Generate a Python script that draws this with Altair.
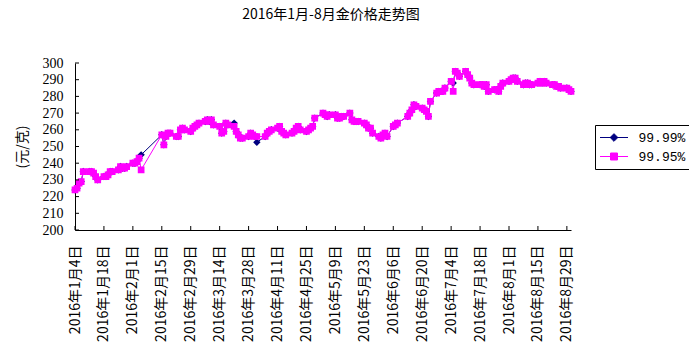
import altair as alt
import pandas as pd

# ---- data ----
months = [1, 2, 3, 4, 5, 6, 7, 8]
trade_days = [
    [4, 5, 6, 7, 8, 11, 12, 13, 14, 15, 18, 19, 20, 21, 22, 25, 26, 27, 28, 29],
    [1, 2, 3, 4, 5, 15, 16, 17, 18, 19, 22, 23, 24, 25, 26, 29],
    [1, 2, 3, 4, 7, 8, 9, 10, 11, 14, 15, 16, 17, 18, 21, 22, 23, 24, 25, 28, 29, 30, 31],
    [1, 5, 6, 7, 8, 11, 12, 13, 14, 15, 18, 19, 20, 21, 22, 25, 26, 27, 28, 29],
    [3, 4, 5, 6, 9, 10, 11, 12, 13, 16, 17, 18, 19, 20, 23, 24, 25, 26, 27, 30, 31],
    [1, 2, 3, 6, 7, 8, 13, 14, 15, 16, 17, 20, 21, 22, 23, 24, 27, 28, 29, 30],
    [1, 4, 5, 6, 7, 8, 11, 12, 13, 14, 15, 18, 19, 20, 21, 22, 25, 26, 27, 28, 29],
    [1, 2, 3, 4, 5, 8, 9, 10, 11, 12, 15, 16, 17, 18, 19, 22, 23, 24, 25, 26, 29, 30, 31],
]

au9999 = [
    [224, 225, 228, 229, 235, 235, 235, 234, 232, 230, 232, 232, 233, 235, 235, 236, 238, 237, 237, 238],
    [240, 240, 241, 243, 245, 257, 251, 256, 258, 258, 256, 256, 260, 261, 260, 259],
    [261, 262, 263, 264, 265, 266, 265, 266, 263, 262, 258, 259, 264, 263, 264, 259, 257, 255, 255, 256, 258, 257, 256],
    [252.5, 256, 258, 259, 260, 261, 262, 259, 258, 257, 258, 259, 261, 262, 260, 259, 260, 261, 262, 267],
    [270, 269, 268, 269, 269, 267, 267, 268, 268, 270, 266, 265, 265, 265, 264, 263, 261, 261, 258, 256, 255],
    [257, 258, 256, 262, 263, 264, 268, 270, 272, 275, 274, 273, 272, 271, 268, 277, 282, 283, 283, 283],
    [285, 289, 288, 295, 294, 292, 295, 293, 291, 288, 287, 287, 287, 286, 287, 283, 284, 284, 283, 286, 288],
    [289, 290, 291, 291, 289, 287, 288, 288, 287, 287, 288, 289, 288, 289, 288, 287, 287, 286, 286, 285, 285, 284, 283],
]

au9995 = [
    [224, 225, 228, 229, 235, 235, 235, 234, 232, 230, 232, 232, 233, 235, 235, 236, 238, 237, 237, 238],
    [240, 240, 241, 243, 236, 257, 251, 256, 258, 258, 256, 256, 260, 261, 260, 259],
    [261, 262, 263, 264, 265, 266, 265, 266, 263, 262, 258, 259, 264, 263, 262, 259, 257, 255, 255, 256, 258, 257, 256],
    [256, 256, 258, 259, 260, 261, 262, 259, 258, 257, 258, 259, 261, 262, 260, 259, 260, 261, 262, 267],
    [270, 269, 268, 269, 269, 267, 267, 268, 268, 270, 266, 265, 265, 265, 264, 263, 261, 261, 258, 256, 255],
    [257, 258, 256, 262, 263, 264, 268, 270, 272, 275, 274, 273, 272, 271, 268, 277, 282, 283, 283, 283],
    [285, 289, 283, 295, 294, 292, 295, 293, 291, 288, 287, 287, 287, 286, 287, 283, 284, 284, 283, 286, 288],
    [289, 290, 291, 291, 289, 287, 288, 288, 287, 287, 288, 289, 288, 289, 288, 287, 287, 286, 286, 285, 285, 284, 283],
]

series_names = ["99.99%", "99.95%"]
series_colors = ["#000080", "#FF00FF"]

tick_dates = ["2016-01-04", "2016-01-18", "2016-02-01", "2016-02-15", "2016-02-29",
              "2016-03-14", "2016-03-28", "2016-04-11", "2016-04-25", "2016-05-09",
              "2016-05-23", "2016-06-06", "2016-06-20", "2016-07-04", "2016-07-18",
              "2016-08-01", "2016-08-15", "2016-08-29"]
y_ticks = [200, 210, 220, 230, 240, 250, 260, 270, 280, 290, 300]

title_text = "2016年1月-8月金价格走势图"
y_title = "(元/克)"

# ---- build table ----
rows = []
for m, days, v99, v95 in zip(months, trade_days, au9999, au9995):
    for d, a, b in zip(days, v99, v95):
        ds = f"2016-{m:02d}-{d:02d}"
        rows.append({"date": ds, "price": a, "series": series_names[0]})
        rows.append({"date": ds, "price": b, "series": series_names[1]})
df = pd.DataFrame(rows)

def dt(s):
    y, m, d = [int(p) for p in s.split("-")]
    return alt.DateTime(year=y, month=m, date=d, utc=True)

xscale = alt.Scale(type="utc", domain=[dt("2016-01-04"), dt("2016-08-31")], nice=False)
yscale = alt.Scale(domain=[200, 300], nice=False, zero=False)

xaxis = alt.Axis(values=[dt(s) for s in tick_dates], ticks=False, grid=False,
                 labelExpr="utcFormat(datum.value, '%Y年%-m月%-d日')",
                 labelAngle=270, labelAlign="right", labelBaseline="middle",
                 labelPadding=15, labelFont="Noto Sans CJK SC", labelFontSize=14,
                 labelColor="black", labelOverlap=False, labelFlush=False,
                 title=None, domainColor="black", domainWidth=1)
yaxis = alt.Axis(values=y_ticks, ticks=False, grid=False,
                 labelFont="Liberation Serif", labelFontSize=14, labelColor="black",
                 labelPadding=12, title=y_title, titleFont="Noto Sans CJK SC",
                 titleFontSize=14, titleFontWeight="normal", titleColor="black",
                 titlePadding=13, domainColor="black", domainWidth=1)

color_scale = alt.Scale(domain=series_names, range=series_colors)
shape_scale = alt.Scale(domain=series_names,
                        range=["M-2,0H2M0,-0.55L0.55,0L0,0.55L-0.55,0Z",
                               "M-2,0H2M-0.5,-0.5H0.5V0.5H-0.5Z"])

leg = alt.Legend(title=None, orient="none", legendX=520, legendY=62,
                 strokeColor="black", fillColor="white", padding=5,
                 symbolSize=196, symbolStrokeWidth=1, symbolOffset=6.5,
                 labelOffset=17, rowPadding=4, labelFont="Liberation Mono",
                 labelFontSize=13, labelColor="black", symbolOpacity=1)

base = alt.Chart(df).encode(
    x=alt.X("date:T", scale=xscale, axis=xaxis),
    y=alt.Y("price:Q", scale=yscale, axis=yaxis),
)

layers = []
for name in series_names:
    sub = base.transform_filter(alt.datum.series == name)
    layers.append(sub.mark_line(strokeWidth=1).encode(
        stroke=alt.Stroke("series:N", scale=color_scale, legend=leg)))
    layers.append(sub.mark_point(filled=True, size=180, strokeWidth=0, opacity=1).encode(
        fill=alt.Fill("series:N", scale=color_scale, legend=leg),
        stroke=alt.Stroke("series:N", scale=color_scale, legend=leg),
        shape=alt.Shape("series:N", scale=shape_scale, legend=leg)))

ytick_layer = alt.Chart(pd.DataFrame({"price": y_ticks})).mark_rule(color="black", strokeWidth=1).encode(
    y=alt.Y("price:Q", scale=yscale, axis=yaxis), x=alt.value(0), x2=alt.value(4))
xtick_layer = alt.Chart(pd.DataFrame({"date": tick_dates})).mark_rule(color="black", strokeWidth=1).encode(
    x=alt.X("date:T", scale=xscale, axis=xaxis), y=alt.value(163), y2=alt.value(167))

chart = alt.layer(*layers, ytick_layer, xtick_layer).properties(
    width=496, height=167,
    title=alt.TitleParams(title_text, font="Noto Sans CJK SC", fontSize=14,
                          fontWeight="normal", color="black", anchor="middle",
                          offset=34, frame="group", dx=8),
    autosize=alt.AutoSizeParams(type="none"),
    padding={"left": 75, "top": 63, "right": 118, "bottom": 127},
    background="white",
).configure_view(stroke=None)

chart.save("out.html", embed_options={"renderer": "svg", "actions": False})
